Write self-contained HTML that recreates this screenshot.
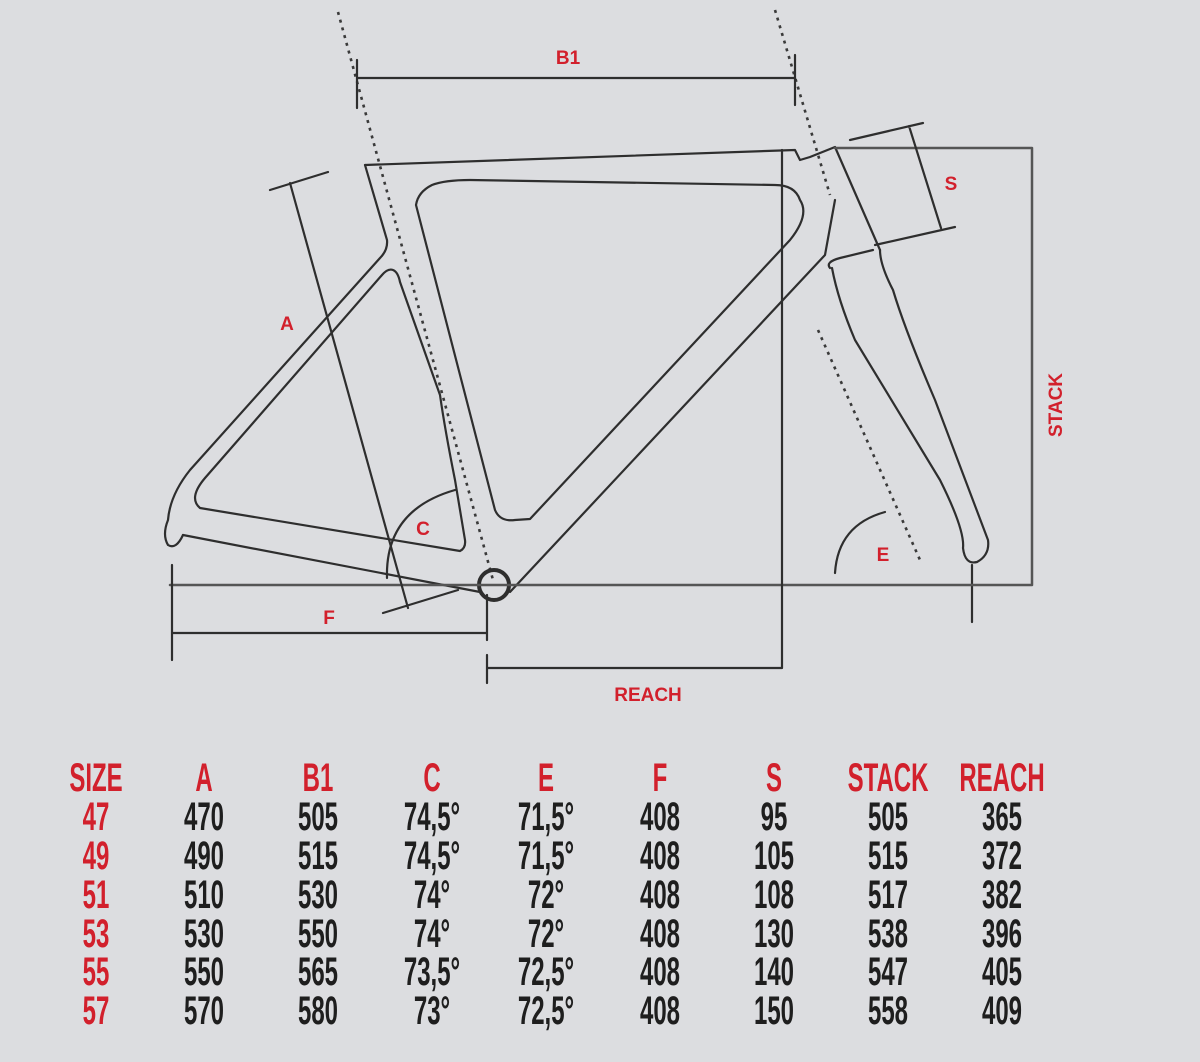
<!DOCTYPE html>
<html><head><meta charset="utf-8"><style>
html,body{margin:0;padding:0;background:#dcdde0;}
svg{display:block}
.l{fill:none;stroke:#2e2e2e;stroke-width:2.2;stroke-linecap:round;stroke-linejoin:round}
.d{fill:none;stroke:#3a3a3a;stroke-width:2.6;stroke-dasharray:3 5}
.r{fill:#d2202c;font-family:"Liberation Sans",sans-serif;font-weight:bold;font-size:19px;text-anchor:middle}
.t text{font-family:"Liberation Sans",sans-serif;font-weight:bold;font-size:40px;text-anchor:middle;fill:#1e1e1e}
.t text.tr{fill:#d2202c}
</style></head><body>
<svg width="1200" height="1062" viewBox="0 0 1200 1062">
<rect width="1200" height="1062" fill="#dcdde0"/>
<path class="d" d="M338 12 L493 580"/>
<path class="d" d="M775 10 L830 195"/>
<path class="d" d="M818 330 L920 560"/>
<path class="l" d="M365 165 L795 150 L800 160 L810 157 L835 147 L880 250"/>
<path class="l" d="M365 165 L387 240 Q388 250 380 258 L190 470 Q170 495 168 520 Q162 535 168 545 Q176 550 183 535"/>
<path class="l" d="M183 535 L480 592"/>
<path class="l" d="M393 270 Q388 268 382 275 L205 478 Q188 498 200 508 L460 551 Q466 548 465 540 L455 480 Q445 430 440 395 L400 282 Q398 272 393 270 Z"/>
<path class="l" d="M432 185 Q418 192 416 205 L495 510 Q500 522 515 520 L530 519 L790 240 Q810 215 800 200 Q795 185 775 185 L470 180 Q445 180 432 185 Z"/>
<path class="l" d="M835 200 L825 255 L510 592"/>
<path class="l" d="M830 268 Q825 262 840 258 L873 250"/>
<path class="l" d="M832 268 Q838 300 855 340 L940 480 Q965 530 963 548 Q965 565 977 562 Q990 555 988 540 L935 400 Q905 330 893 290 Q880 265 880 250"/>
<path class="l" d="M972 565 L972 622"/>
<circle cx="494" cy="585" r="15" fill="none" stroke="#2e2e2e" stroke-width="4"/>
<path class="l" d="M170 585 L1032 585 M835 148 L1032 148 M1032 148 L1032 585" style="stroke:#555;stroke-width:2.5"/>
<path class="l" d="M782 150 L782 668 M487 668 L782 668 M487 655 L487 683"/>
<path class="l" d="M172 633 L487 633 M172 565 L172 660 M487 595 L487 640"/>
<path class="l" d="M357 78 L795 78 M357 60 L357 108 M795 55 L795 105"/>
<path class="l" d="M290 183 L408 608 M270 190 L328 172 M383 613 L458 590"/>
<path class="l" d="M850 140 L923 123 M909 126 L941 228 M875 245 L955 227"/>
<path class="l" d="M387 578 Q385 510 455 490"/>
<path class="l" d="M835 573 Q838 525 885 512"/>
<text class="r" x="568" y="64">B1</text>
<text class="r" x="951" y="190">S</text>
<text class="r" x="287" y="330">A</text>
<text class="r" x="423" y="535">C</text>
<text class="r" x="883" y="561">E</text>
<text class="r" x="329" y="624">F</text>
<text class="r" x="648" y="701">REACH</text>
<text class="r" transform="translate(1062,405) rotate(-90)">STACK</text>
<g class="t">
<text class="tr" transform="translate(96,791) scale(0.6,1)">SIZE</text><text class="tr" transform="translate(204,791) scale(0.6,1)">A</text><text class="tr" transform="translate(318,791) scale(0.6,1)">B1</text><text class="tr" transform="translate(432,791) scale(0.6,1)">C</text><text class="tr" transform="translate(546,791) scale(0.6,1)">E</text><text class="tr" transform="translate(660,791) scale(0.6,1)">F</text><text class="tr" transform="translate(774,791) scale(0.6,1)">S</text><text class="tr" transform="translate(888,791) scale(0.6,1)">STACK</text><text class="tr" transform="translate(1002,791) scale(0.6,1)">REACH</text>
<text class="tr" transform="translate(96,830) scale(0.6,1)">47</text><text transform="translate(204,830) scale(0.6,1)">470</text><text transform="translate(318,830) scale(0.6,1)">505</text><text transform="translate(432,830) scale(0.6,1)">74,5°</text><text transform="translate(546,830) scale(0.6,1)">71,5°</text><text transform="translate(660,830) scale(0.6,1)">408</text><text transform="translate(774,830) scale(0.6,1)">95</text><text transform="translate(888,830) scale(0.6,1)">505</text><text transform="translate(1002,830) scale(0.6,1)">365</text>
<text class="tr" transform="translate(96,869) scale(0.6,1)">49</text><text transform="translate(204,869) scale(0.6,1)">490</text><text transform="translate(318,869) scale(0.6,1)">515</text><text transform="translate(432,869) scale(0.6,1)">74,5°</text><text transform="translate(546,869) scale(0.6,1)">71,5°</text><text transform="translate(660,869) scale(0.6,1)">408</text><text transform="translate(774,869) scale(0.6,1)">105</text><text transform="translate(888,869) scale(0.6,1)">515</text><text transform="translate(1002,869) scale(0.6,1)">372</text>
<text class="tr" transform="translate(96,908) scale(0.6,1)">51</text><text transform="translate(204,908) scale(0.6,1)">510</text><text transform="translate(318,908) scale(0.6,1)">530</text><text transform="translate(432,908) scale(0.6,1)">74°</text><text transform="translate(546,908) scale(0.6,1)">72°</text><text transform="translate(660,908) scale(0.6,1)">408</text><text transform="translate(774,908) scale(0.6,1)">108</text><text transform="translate(888,908) scale(0.6,1)">517</text><text transform="translate(1002,908) scale(0.6,1)">382</text>
<text class="tr" transform="translate(96,947) scale(0.6,1)">53</text><text transform="translate(204,947) scale(0.6,1)">530</text><text transform="translate(318,947) scale(0.6,1)">550</text><text transform="translate(432,947) scale(0.6,1)">74°</text><text transform="translate(546,947) scale(0.6,1)">72°</text><text transform="translate(660,947) scale(0.6,1)">408</text><text transform="translate(774,947) scale(0.6,1)">130</text><text transform="translate(888,947) scale(0.6,1)">538</text><text transform="translate(1002,947) scale(0.6,1)">396</text>
<text class="tr" transform="translate(96,985) scale(0.6,1)">55</text><text transform="translate(204,985) scale(0.6,1)">550</text><text transform="translate(318,985) scale(0.6,1)">565</text><text transform="translate(432,985) scale(0.6,1)">73,5°</text><text transform="translate(546,985) scale(0.6,1)">72,5°</text><text transform="translate(660,985) scale(0.6,1)">408</text><text transform="translate(774,985) scale(0.6,1)">140</text><text transform="translate(888,985) scale(0.6,1)">547</text><text transform="translate(1002,985) scale(0.6,1)">405</text>
<text class="tr" transform="translate(96,1024) scale(0.6,1)">57</text><text transform="translate(204,1024) scale(0.6,1)">570</text><text transform="translate(318,1024) scale(0.6,1)">580</text><text transform="translate(432,1024) scale(0.6,1)">73°</text><text transform="translate(546,1024) scale(0.6,1)">72,5°</text><text transform="translate(660,1024) scale(0.6,1)">408</text><text transform="translate(774,1024) scale(0.6,1)">150</text><text transform="translate(888,1024) scale(0.6,1)">558</text><text transform="translate(1002,1024) scale(0.6,1)">409</text>
</g>
</svg>
</body></html>
